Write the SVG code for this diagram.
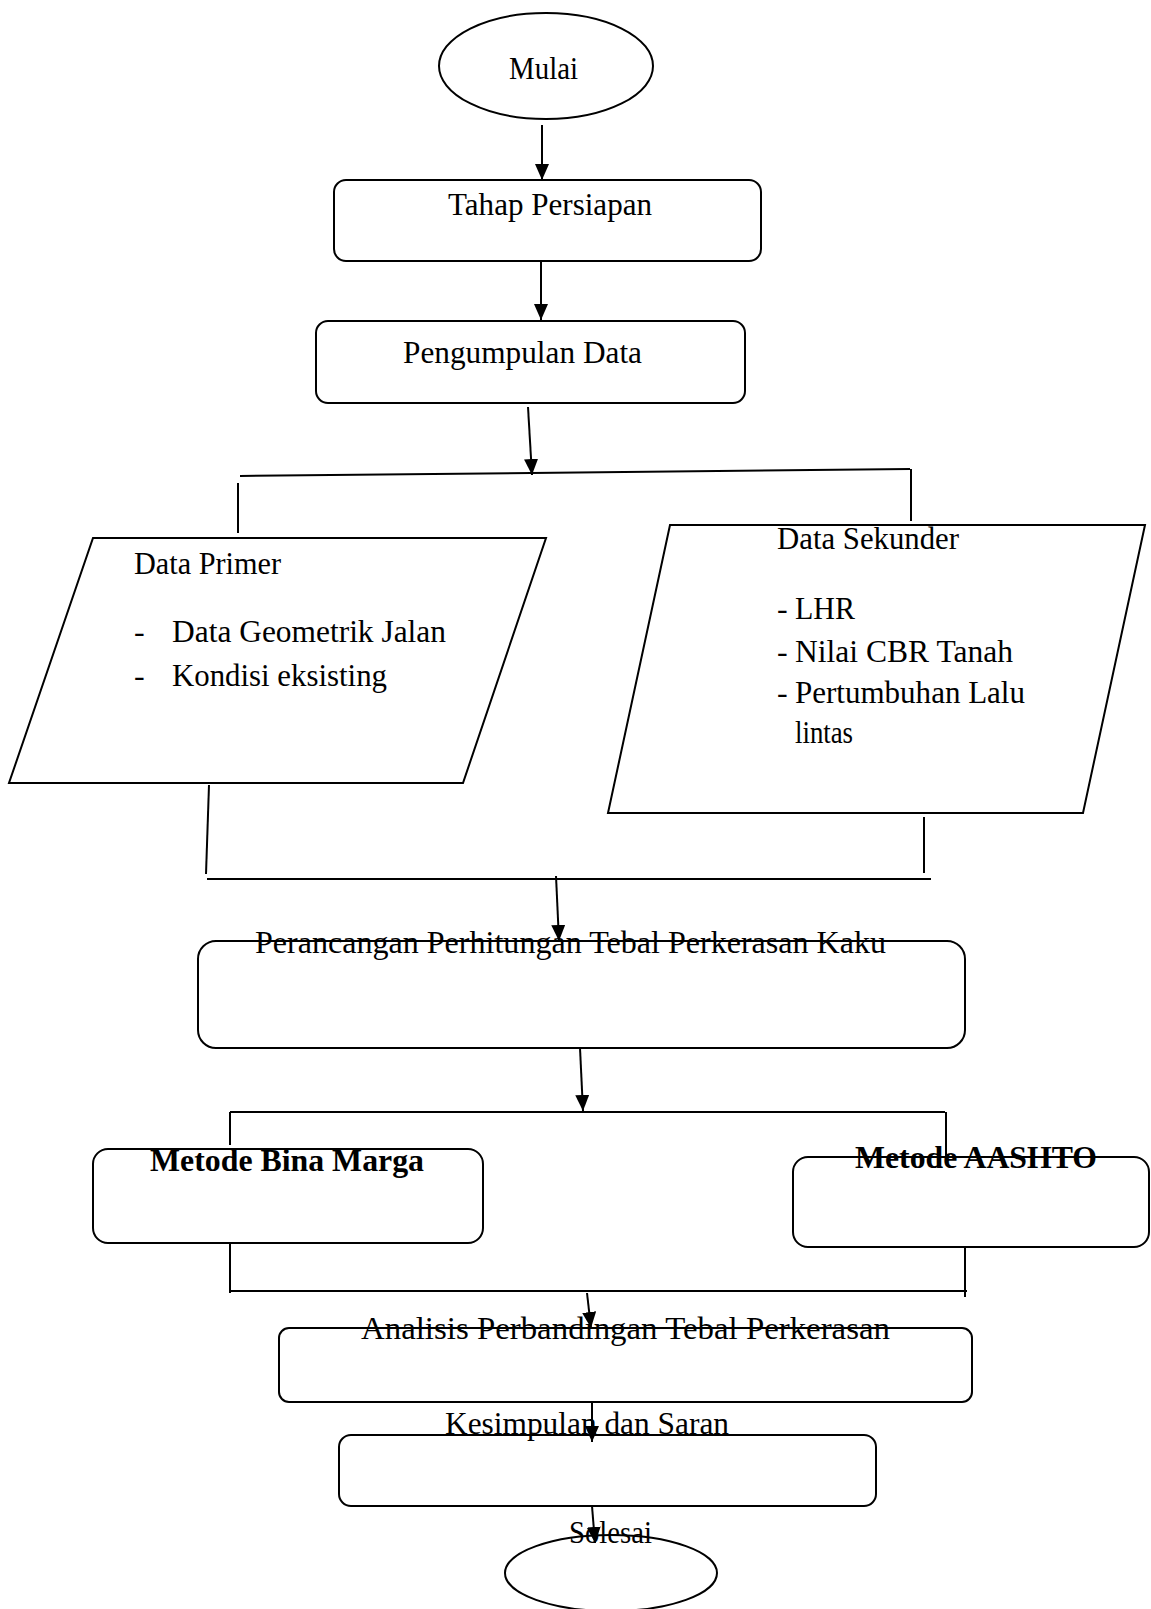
<svg xmlns="http://www.w3.org/2000/svg" width="1151" height="1609" viewBox="0 0 1151 1609">
<style>
.s{fill:none;stroke:#000;stroke-width:2}
.b{fill:#fff;stroke:#000;stroke-width:2}
.t{font-family:"Liberation Serif","Times New Roman",serif;font-size:32px;fill:#000}
.tb{font-family:"Liberation Serif","Times New Roman",serif;font-size:32px;font-weight:bold;fill:#000}
.c{fill:none;stroke:#000;stroke-width:2}
.a{fill:none;stroke:#000;stroke-width:2;marker-end:url(#ah)}
</style>
<defs>
<marker id="ah" markerUnits="userSpaceOnUse" markerWidth="17" markerHeight="15" refX="16" refY="7" orient="auto">
<path d="M0,0 L16,7 L0,14 Z" fill="#000"/>
</marker>
</defs>
<rect width="1151" height="1609" fill="#fff"/>
<g id="mulai">
<ellipse class="b" cx="546" cy="66" rx="107" ry="53"/>
<text class="t" x="509" y="79" textLength="69" lengthAdjust="spacingAndGlyphs">Mulai</text>
</g>
<g id="tahap-persiapan">
<rect class="b" x="334" y="180" width="427" height="81" rx="12"/>
<text class="t" x="448" y="215" textLength="204" lengthAdjust="spacingAndGlyphs">Tahap  Persiapan</text>
</g>
<g id="pengumpulan-data">
<rect class="b" x="316" y="321" width="429" height="82" rx="12"/>
<text class="t" x="403" y="363" textLength="239" lengthAdjust="spacingAndGlyphs">Pengumpulan  Data</text>
</g>
<g id="data-primer">
<polygon class="b" points="93,538 546,538 463,783 9,783"/>
<text class="t" x="134" y="574" textLength="147" lengthAdjust="spacingAndGlyphs">Data Primer</text>
<text class="t" x="134" y="642">-</text>
<text class="t" x="172" y="642" textLength="274" lengthAdjust="spacingAndGlyphs">Data Geometrik  Jalan</text>
<text class="t" x="134" y="686">-</text>
<text class="t" x="172" y="686" textLength="215" lengthAdjust="spacingAndGlyphs">Kondisi  eksisting</text>
</g>
<g id="data-sekunder">
<polygon class="b" points="670,525 1145,525 1083,813 608,813"/>
<text class="t" x="777" y="549" textLength="182" lengthAdjust="spacingAndGlyphs">Data Sekunder</text>
<text class="t" x="777" y="619">- <tspan x="795" textLength="60" lengthAdjust="spacingAndGlyphs">LHR</tspan></text>
<text class="t" x="777" y="662">- <tspan x="795" textLength="218" lengthAdjust="spacingAndGlyphs">Nilai  CBR Tanah</tspan></text>
<text class="t" x="777" y="703">- <tspan x="795" textLength="230" lengthAdjust="spacingAndGlyphs">Pertumbuhan  Lalu</tspan></text>
<text class="t" x="795" y="743" textLength="58" lengthAdjust="spacingAndGlyphs">lintas</text>
</g>
<g id="perancangan">
<rect class="b" x="198" y="941" width="767" height="107" rx="18"/>
<text class="t" x="255" y="953" textLength="631" lengthAdjust="spacingAndGlyphs">Perancangan  Perhitungan  Tebal  Perkerasan  Kaku</text>
</g>
<g id="bina-marga">
<rect class="b" x="93" y="1149" width="390" height="94" rx="15"/>
<text class="tb" x="150" y="1171" textLength="274" lengthAdjust="spacingAndGlyphs">Metode Bina Marga</text>
</g>
<g id="aashto">
<rect class="b" x="793" y="1157" width="356" height="90" rx="15"/>
<text class="tb" x="855" y="1168" textLength="242" lengthAdjust="spacingAndGlyphs">Metode AASHTO</text>
</g>
<g id="analisis">
<rect class="b" x="279" y="1328" width="693" height="74" rx="10"/>
<text class="t" x="361" y="1339" textLength="529" lengthAdjust="spacingAndGlyphs">Analisis  Perbandingan   Tebal  Perkerasan</text>
</g>
<g id="kesimpulan">
<rect class="b" x="339" y="1435" width="537" height="71" rx="12"/>
<text class="t" x="445" y="1434" textLength="284" lengthAdjust="spacingAndGlyphs">Kesimpulan  dan Saran</text>
</g>
<g id="selesai">
<ellipse class="b" cx="611" cy="1573" rx="106" ry="38"/>
<text class="t" x="569" y="1543" textLength="83" lengthAdjust="spacingAndGlyphs">Solesai</text>
</g>
<g id="connectors">
<line class="a" x1="542" y1="125" x2="542" y2="180"/>
<line class="a" x1="541" y1="262" x2="541" y2="320"/>
<line class="a" x1="528" y1="407" x2="532" y2="475"/>
<polyline class="c" points="240,476 910,469"/>
<line class="c" x1="238" y1="483" x2="238" y2="533"/>
<line class="c" x1="911" y1="469" x2="911" y2="521"/>
<line class="c" x1="209" y1="785" x2="206" y2="874"/>
<line class="c" x1="924" y1="817" x2="924" y2="873"/>
<line class="c" x1="207" y1="879" x2="931" y2="879"/>
<line class="a" x1="556" y1="876" x2="559" y2="941"/>
<line class="a" x1="580" y1="1048" x2="583" y2="1111"/>
<line class="c" x1="230" y1="1112" x2="945" y2="1112"/>
<line class="c" x1="230" y1="1112" x2="230" y2="1145"/>
<line class="c" x1="946" y1="1112" x2="946" y2="1157"/>
<line class="c" x1="230" y1="1243" x2="230" y2="1293"/>
<line class="c" x1="965" y1="1247" x2="965" y2="1297"/>
<line class="c" x1="230" y1="1291" x2="967" y2="1291"/>
<line class="a" x1="587" y1="1293" x2="591" y2="1328"/>
<line class="a" x1="592" y1="1403" x2="592" y2="1442"/>
<line class="a" x1="592" y1="1506" x2="595" y2="1543"/>
</g>
</svg>
